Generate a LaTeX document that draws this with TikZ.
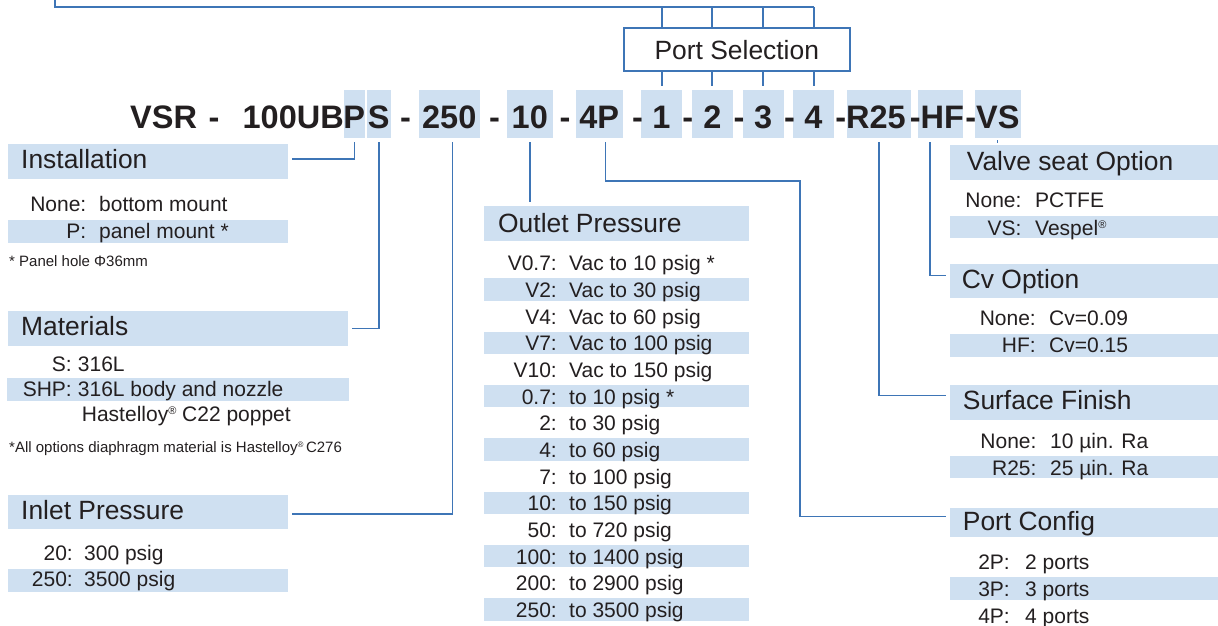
\documentclass[tikz,border=0pt]{standalone}
\usepackage{fontspec}
\setmainfont{Liberation Sans}
\definecolor{lineblue}{HTML}{3E75B6}
\definecolor{hlblue}{HTML}{CFE0F1}
\definecolor{txtgray}{HTML}{231F20}
\newcommand\optrow[6]{\node[lab] (#1a) at (#2,#4) {#5}; \node[val] (#1b) at (#3,#4) {#6};}
\newcommand\hlbar[4]{\fill[hl] (#1,#2) rectangle (#3,#4);}
\newcommand\regrow{\raisebox{7pt}{\fontsize{11}{11}\selectfont ®}}
\newcommand\regnote{\raisebox{5pt}{\fontsize{8}{8}\selectfont ®}}
\tikzset{
 conn/.style={draw=lineblue, line width=1.5pt},
 topline/.style={draw=lineblue, line width=2pt},
 hl/.style={fill=hlblue, draw=none},
 headbox/.style={fill=hlblue, draw=none, inner sep=0pt, outer sep=4pt},
 headtxt/.style={anchor=base west, inner sep=0pt, text=txtgray, font=\fontsize{26.4}{30}\selectfont},
 lab/.style={anchor=base east, inner sep=0pt, text=txtgray, font=\fontsize{21}{24}\selectfont},
 val/.style={anchor=base west, inner sep=0pt, text=txtgray, font=\fontsize{21}{24}\selectfont},
 note/.style={anchor=base west, inner sep=0pt, text=txtgray, font=\fontsize{15}{18}\selectfont},
 codebox/.style={fill=hlblue, draw=none, inner sep=0pt, outer sep=4pt, minimum height=48pt},
 codetxt/.style={inner sep=0pt, text=txtgray, font=\fontsize{32.5}{36}\selectfont\bfseries},
 selbox/.style={draw=lineblue, line width=2pt, fill=white, minimum width=226.4pt, minimum height=42.6pt, inner sep=0pt, text=txtgray, font=\fontsize{26.4}{30}\selectfont},
}
\begin{document}
\begin{tikzpicture}[x=1pt,y=-1pt]
\useasboundingbox (0,0) rectangle (1218,626);
\fill[white] (0,0) rectangle (1218,626);

% ---------- code line: highlight boxes ----------
\node[codebox, minimum width=20.5pt] (cP) at (354.25,114) {};
\node[codebox, minimum width=23.5pt] (cS) at (378.75,114) {};
\node[codebox, minimum width=60.5pt] (c250) at (449.25,114) {};
\node[codebox, minimum width=45.5pt] (c10) at (529.75,114) {};
\node[codebox, minimum width=46.5pt] (c4P) at (599.25,114) {};
\node[codebox, minimum width=40.2pt] (c1) at (661.5,114) {};
\node[codebox, minimum width=41pt] (c2) at (712.3,114) {};
\node[codebox, minimum width=41pt] (c3) at (763.2,114) {};
\node[codebox, minimum width=41pt] (c4) at (813.5,114) {};
\node[codebox, minimum width=63.6pt] (cR25) at (878.8,114) {};
\node[codebox, minimum width=45.4pt] (cHF) at (940.7,114) {};
\node[codebox, minimum width=45.8pt] (cVS) at (997.7,114) {};
% ---------- code line: text ----------
\node[codetxt, anchor=base west] (tVSR) at (130,128) {VSR};
\node[codetxt, anchor=base east] (t100) at (344,128) {100UB};
\foreach \nm/\x/\s in {tP/354.25/P, tS/378.75/S, t250/449.25/250, t10/529.75/10, t4P/599.25/4P, t1/661.5/1, t2/712.3/2, t3/763.2/3, t4/813.5/4}
  \node[codetxt, anchor=base] (\nm) at (\x,128) {\s};
\foreach \x [count=\i] in {214,405.6,494.5,565,637.5,687.7,739,789.6}
  \node[codetxt, anchor=base] (d\i) at (\x,128) {-};
\node[codetxt, anchor=base west] (tTail) at (835.1,128) {-R25\kern4.1pt-HF\kern1.4pt-VS};

% ---------- port selection ----------
\coordinate (topIn) at (55,-2);
\coordinate (topCorner) at (55,7);
\draw[topline] (topIn) |- (c4.north |- topCorner);
\node[selbox] (pSel) at (736.8,49.7) {Port Selection};
\foreach \n in {c1,c2,c3,c4} {
  \draw[topline] (\n.north |- topCorner) -- (\n.north |- pSel.north);
  \draw[topline] (\n.north |- pSel.south) -- (\n.north);
}

% ---------- Installation ----------
\node[headbox, minimum width=279.7pt, minimum height=35pt] (hInst) at (147.85,161.5) {};
\node[headtxt] (tInst) at (21,168) {Installation};
\optrow{inA}{86.5}{99}{211.7}{None:}{bottom mount}
\hlbar{8}{220}{287.7}{242.7}
\optrow{inB}{86.5}{99}{238}{P:}{panel mount *}
\node[note] (nInst) at (9,266.7) {* Panel hole Φ36mm};

% ---------- Materials ----------
\node[headbox, minimum width=339.7pt, minimum height=34.7pt] (hMat) at (177.85,328.35) {};
\node[headtxt] (tMat) at (21,335) {Materials};
\optrow{maA}{72}{77.7}{371}{S:}{316L}
\hlbar{7}{378}{349}{400.7}
\optrow{maB}{72}{77.7}{396.7}{SHP:}{316L body and nozzle}
\node[val] (maC) at (81.7,421.7) {Hastelloy\regrow\ C22 poppet};
\node[note] (nMat) at (9,452) {*All options diaphragm material is Hastelloy\regnote\,C276};

% ---------- Inlet Pressure ----------
\node[headbox, minimum width=279.7pt, minimum height=34.3pt] (hIn) at (147.85,512.15) {};
\node[headtxt] (tIn) at (21,519) {Inlet Pressure};
\optrow{ipA}{73}{84}{560}{20:}{300 psig}
\hlbar{8}{569}{287.7}{591.7}
\optrow{ipB}{73}{84}{586.7}{250:}{3500 psig}

% ---------- Outlet Pressure ----------
\node[headbox, minimum width=264.7pt, minimum height=34.7pt] (hOut) at (616.35,223.35) {};
\node[headtxt] (tOut) at (498,232) {Outlet Pressure};
\foreach \lab/\val [count=\i] in {V0.7:/Vac to 10 psig *, V2:/Vac to 30 psig, V4:/Vac to 60 psig, V7:/Vac to 100 psig, V10:/Vac to 150 psig, 0.7:/to 10 psig *, 2:/to 30 psig, 4:/to 60 psig, 7:/to 100 psig, 10:/to 150 psig, 50:/to 720 psig, 100:/to 1400 psig, 200:/to 2900 psig, 250:/to 3500 psig} {
  \pgfmathsetmacro\yy{270.7+(\i-1)*26.67}
  \ifodd\i\else \fill[hl] (484,\yy-19) rectangle (748.7,\yy+3.3); \fi
  \node[lab] (oL\i) at (557,\yy) {\lab};
  \node[val] (oV\i) at (569,\yy) {\val};
}

% ---------- Valve seat Option ----------
\node[headbox, minimum width=270pt, minimum height=35pt] (hVS) at (1085,162.5) {};
\node[headtxt] (tVSo) at (966.7,170) {Valve seat Option};
\optrow{vsA}{1021.7}{1035}{207.7}{None:}{PCTFE}
\hlbar{950}{216}{1220}{238.3}
\optrow{vsB}{1021.7}{1035}{235}{VS:}{Vespel\regrow}

% ---------- Cv Option ----------
\node[headbox, minimum width=270pt, minimum height=34pt] (hCv) at (1085,281.3) {};
\node[headtxt] (tCv) at (961.7,288.3) {Cv Option};
\optrow{cvA}{1036}{1049}{325}{None:}{Cv=0.09}
\hlbar{950}{334}{1220}{356.7}
\optrow{cvB}{1036}{1049}{352.3}{HF:}{Cv=0.15}

% ---------- Surface Finish ----------
\node[headbox, minimum width=270pt, minimum height=35pt] (hSurf) at (1085,402.5) {};
\node[headtxt] (tSurf) at (962.7,409.3) {Surface Finish};
\optrow{sfA}{1036.7}{1050}{448.3}{None:}{10 µin. Ra}
\hlbar{950}{456}{1220}{478.3}
\optrow{sfB}{1036.7}{1050}{475}{R25:}{25 µin. Ra}

% ---------- Port Config ----------
\node[headbox, minimum width=270pt, minimum height=29pt] (hPort) at (1085,522.2) {};
\node[headtxt] (tPort) at (962.7,530) {Port Config};
\optrow{pcA}{1010}{1025}{569}{2P:}{2 ports}
\hlbar{950}{577.3}{1220}{600}
\optrow{pcB}{1010}{1025}{596.7}{3P:}{3 ports}
\optrow{pcC}{1010}{1025}{623.3}{4P:}{4 ports}

% ---------- connectors ----------
\coordinate (bend4P) at (800,181);
\draw[conn] (cP.south) |- ([yshift=2.5pt]hInst.east);
\draw[conn] (cS.south) |- (hMat.east);
\draw[conn] ([xshift=3pt]c250.south) |- ([yshift=-2pt]hIn.east);
\draw[conn] (c10.south) -- (c10.south |- hOut.north);
\draw[conn] ([xshift=6pt]c4P.south) |- (bend4P) |- ([yshift=5.5pt]hPort.west);
\draw[conn] (cR25.south) |- ([yshift=6.8pt]hSurf.west);
\draw[conn] ([xshift=-10.7pt]cHF.south) |- ([yshift=5.6pt]hCv.west);
\draw[conn] ([yshift=2pt]cVS.south) -- ([yshift=-2pt]cVS.south |- hVS.north);
\end{tikzpicture}
\end{document}
